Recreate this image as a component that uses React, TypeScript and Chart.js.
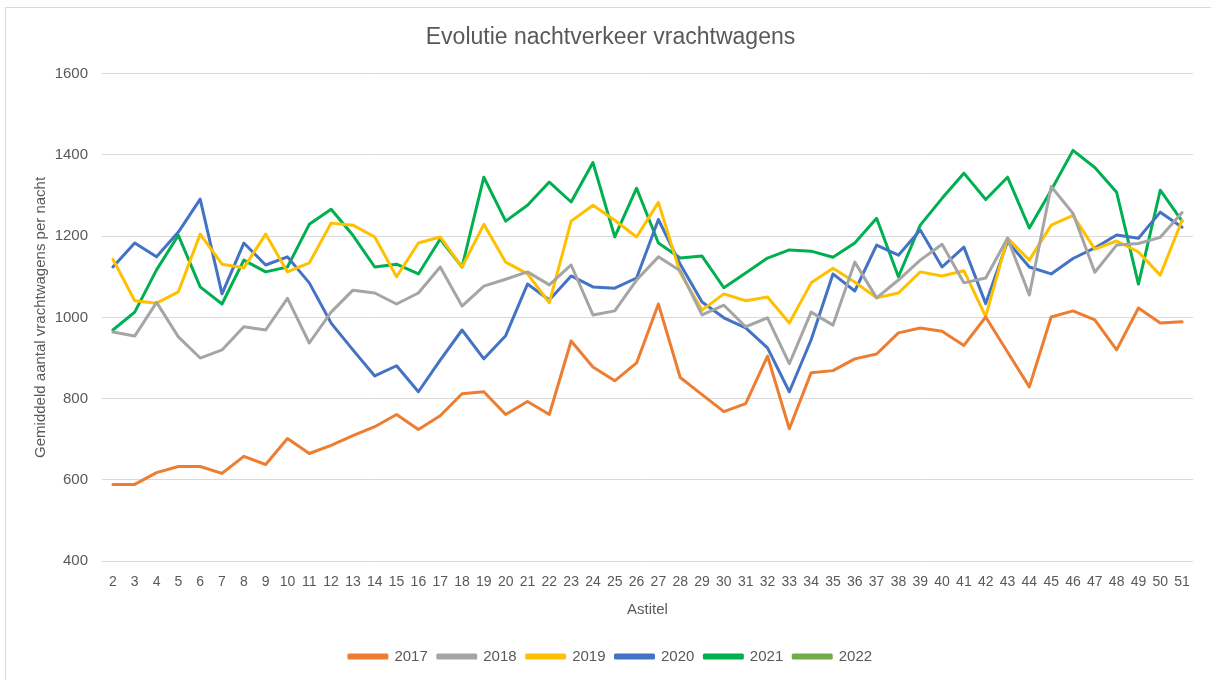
import React, { useEffect, useRef } from "react";
import { Chart, registerables } from "chart.js";

Chart.register(...registerables);

const weeks: string[] = [
  "2", "3", "4", "5", "6", "7", "8", "9", "10", "11", "12", "13", "14", "15", "16", "17", "18", "19", "20", "21",
  "22", "23", "24", "25", "26", "27", "28", "29", "30", "31", "32", "33", "34", "35", "36", "37", "38", "39", "40", "41",
  "42", "43", "44", "45", "46", "47", "48", "49", "50", "51",
];

const y2017: number[] = [
  589, 589, 618, 633, 633, 616, 658, 638, 702, 665, 685, 709, 731, 761, 724, 758, 812, 817, 761, 793,
  761, 942, 878, 844, 888, 1033, 852, 810, 768, 788, 905, 726, 864, 869, 898, 910, 962, 974, 966, 931,
  1001, 915, 829, 1001, 1016, 994, 920, 1023, 986, 989,
];

const y2018: number[] = [
  964, 954, 1037, 952, 900, 920, 977, 969, 1047, 937, 1013, 1067, 1060, 1033, 1060, 1124, 1028, 1077, 1094, 1112,
  1080, 1129, 1006, 1016, 1092, 1149, 1115, 1006, 1030, 977, 999, 886, 1013, 981, 1136, 1048, 1092, 1141, 1180, 1085,
  1097, 1195, 1055, 1322, 1256, 1111, 1178, 1182, 1197, 1258,
];

const y2019: number[] = [
  1143, 1041, 1035, 1063, 1205, 1131, 1122, 1205, 1112, 1134, 1232, 1227, 1198, 1100, 1183, 1198, 1124, 1229, 1136, 1107,
  1036, 1237, 1276, 1239, 1198, 1283, 1109, 1018, 1058, 1041, 1050, 986, 1085, 1121, 1087, 1048, 1060, 1112, 1102, 1115,
  1002, 1195, 1141, 1227, 1251, 1168, 1188, 1161, 1104, 1239,
];

const y2020: number[] = [
  1124, 1183, 1149, 1210, 1291, 1058, 1183, 1129, 1149, 1085, 986, 920, 856, 881, 817, 895, 969, 898, 955, 1082,
  1043, 1102, 1075, 1072, 1097, 1241, 1131, 1038, 999, 974, 925, 817, 945, 1107, 1065, 1178, 1153, 1215, 1124, 1173,
  1034, 1187, 1124, 1107, 1145, 1171, 1203, 1195, 1259, 1222,
];

const y2021: number[] = [
  969, 1013, 1117, 1202, 1075, 1033, 1141, 1112, 1124, 1229, 1266, 1202, 1124, 1131, 1107, 1193, 1124, 1345, 1237, 1276,
  1333, 1284, 1381, 1198, 1318, 1183, 1146, 1151, 1073, 1109, 1146, 1166, 1163, 1148, 1183, 1244, 1100, 1227, 1293, 1355,
  1290, 1345, 1220, 1313, 1411, 1369, 1308, 1082, 1313, 1237,
];

const y2022: number[] = [];

const seriesNames: string[] = ["2017", "2018", "2019", "2020", "2021", "2022"];
const seriesColors: string[] = ["#ED7D31", "#A5A5A5", "#FFC000", "#4472C4", "#00B050", "#70AD47"];
const seriesData: number[][] = [y2017, y2018, y2019, y2020, y2021, y2022];

const FONT = "'Liberation Sans', Arial, sans-serif";
const TEXT = "#595959";

export default function App() {
  const ref = useRef<HTMLCanvasElement>(null);

  useEffect(() => {
    if (!ref.current) return;
    const chart = new Chart(ref.current, {
      type: "line",
      data: {
        labels: weeks,
        datasets: seriesNames.map((name, i) => ({
          label: name,
          data: seriesData[i],
          borderColor: seriesColors[i],
          backgroundColor: seriesColors[i],
          borderWidth: 3,
          pointRadius: 0,
          pointHoverRadius: 0,
          tension: 0,
          fill: false,
          borderJoinStyle: "round" as const,
          borderCapStyle: "round" as const,
        })),
      },
      options: {
        responsive: false,
        animation: false,
        layout: { padding: { left: 28, right: 18, top: 15, bottom: 6 } },
        plugins: {
          title: {
            display: true,
            text: "Evolutie nachtverkeer vrachtwagens",
            color: TEXT,
            font: { family: FONT, size: 23, weight: "normal" },
            padding: { top: 9, bottom: 22 },
          },
          legend: {
            display: true,
            position: "bottom",
            labels: {
              color: TEXT,
              font: { family: FONT, size: 15 },
              boxWidth: 38,
              boxHeight: 3,
              padding: 10,
            },
          },
          tooltip: { enabled: false },
        },
        scales: {
          x: {
            offset: true,
            grid: { display: false, drawTicks: false, offset: true },
            border: { display: false },
            ticks: {
              color: TEXT,
              font: { family: FONT, size: 14 },
              autoSkip: false,
              maxRotation: 0,
              padding: 12.5,
            },
            title: {
              display: true,
              text: "Astitel",
              color: TEXT,
              font: { family: FONT, size: 15 },
              padding: { top: -2, bottom: 20 },
            },
          },
          y: {
            min: 400,
            max: 1600,
            grid: { color: "#d9d9d9", lineWidth: 1, drawTicks: false },
            border: { display: false },
            ticks: {
              stepSize: 200,
              color: TEXT,
              font: { family: FONT, size: 15 },
              padding: 14,
              callback: (v: any) => String(v),
            },
            title: {
              display: true,
              text: "Gemiddeld aantal vrachtwagens per nacht",
              color: TEXT,
              font: { family: FONT, size: 15 },
              padding: { top: 4, bottom: 4 },
            },
            afterFit: (scale: any) => {
              scale.width = 74;
            },
          },
        },
      },
    });
    return () => chart.destroy();
  }, []);

  return (
    <div style={{ position: "fixed", left: 0, top: 0, width: 1211, height: 680, background: "#ffffff", overflow: "hidden" }}>
      <div
        style={{
          position: "absolute",
          left: 5,
          top: 7,
          right: 0,
          bottom: 0,
          borderLeft: "1px solid #d9d9d9",
          borderTop: "1px solid #d9d9d9",
        }}
      />
      <canvas ref={ref} width={1211} height={680} style={{ position: "absolute", left: 0, top: 0, width: 1211, height: 680 }} />
    </div>
  );
}
